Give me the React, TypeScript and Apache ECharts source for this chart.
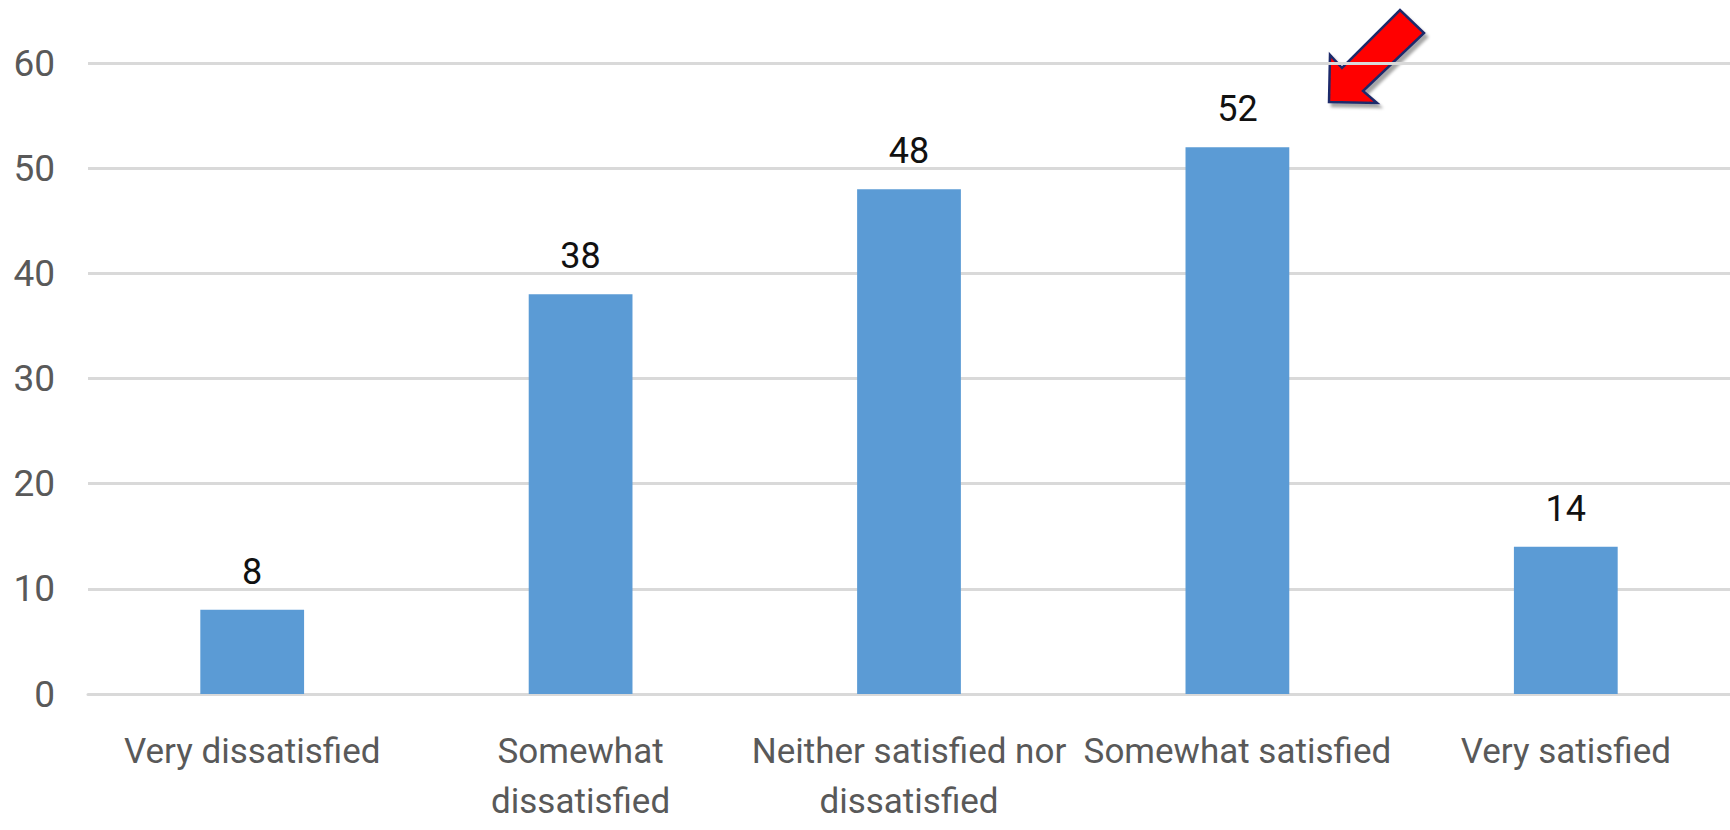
import React, { useEffect, useRef } from "react";
import * as echarts from "echarts";

const categories = [
  "Very dissatisfied",
  "Somewhat\ndissatisfied",
  "Neither satisfied nor\ndissatisfied",
  "Somewhat satisfied",
  "Very satisfied",
];
const values = [8, 38, 48, 52, 14];
const yTicks = { min: 0, max: 60, interval: 10 };

export default function App() {
  const ref = useRef<HTMLDivElement>(null);
  useEffect(() => {
    if (!ref.current) return;
    const chart = echarts.init(ref.current, null, { renderer: "svg" });
    chart.setOption({
      animation: false,
      backgroundColor: "#ffffff",
      grid: {
        left: 88,
        right: 0,
        top: 63,
        bottom: 136,
        containLabel: false,
        outerBoundsMode: "none",
      },
      xAxis: {
        type: "category",
        data: categories,
        axisTick: { show: false },
        axisLine: { lineStyle: { color: "#D9D9D9", width: 3 } },
        axisLabel: {
          color: "#595959",
          fontFamily: "Roboto",
          fontSize: 35,
          lineHeight: 50,
          margin: 32,
          interval: 0,
        },
      },
      yAxis: {
        type: "value",
        min: yTicks.min,
        max: yTicks.max,
        interval: yTicks.interval,
        axisLine: { show: false },
        axisTick: { show: false },
        splitLine: { lineStyle: { color: "#D9D9D9", width: 3 } },
        axisLabel: {
          color: "#595959",
          fontFamily: "Roboto",
          fontSize: 37,
          margin: 33,
        },
      },
      series: [
        {
          type: "bar",
          data: values,
          barWidth: "31.6%",
          itemStyle: { color: "#5B9BD5" },
          label: {
            show: true,
            position: "top",
            distance: 20,
            color: "#111111",
            fontFamily: "Roboto",
            fontSize: 36,
          },
        },
      ],
      graphic: [
        {
          type: "polygon",
          shape: {
            points: [
              [1329, 102],
              [1330, 55],
              [1342, 68],
              [1400, 10],
              [1424, 33],
              [1363, 91],
              [1377, 103],
            ],
          },
          style: {
            fill: "#FF0000",
            stroke: "#1F2A6B",
            lineWidth: 2.5,
            shadowColor: "rgba(0,0,0,0.35)",
            shadowBlur: 3,
            shadowOffsetX: 3,
            shadowOffsetY: 4,
          },
        },
      ],
    });
    return () => chart.dispose();
  }, []);
  return (
    <div
      ref={ref}
      style={{ position: "fixed", left: 0, top: 0, width: 1730, height: 830 }}
    />
  );
}
